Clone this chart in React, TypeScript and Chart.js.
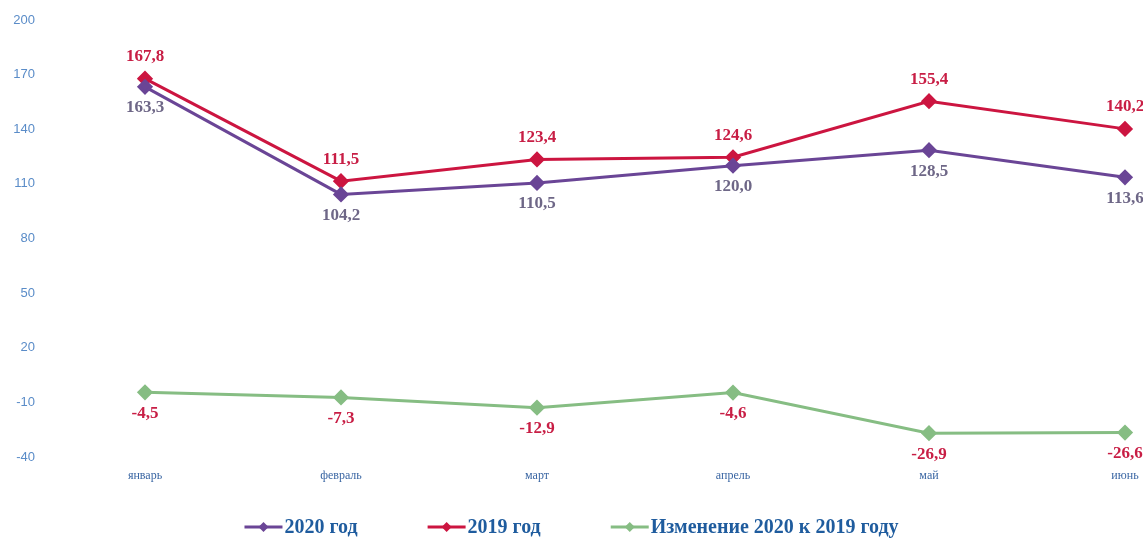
import React, { useEffect, useRef } from "react";
import { Chart, registerables } from "chart.js";

Chart.register(...registerables);

const months = ["январь", "февраль", "март", "апрель", "май", "июнь"];
const values2020 = [163.3, 104.2, 110.5, 120.0, 128.5, 113.6];
const values2019 = [167.8, 111.5, 123.4, 124.6, 155.4, 140.2];
const changeValues = [-4.5, -7.3, -12.9, -4.6, -26.9, -26.6];
const seriesNames = ["2020 год", "2019 год", "Изменение 2020 к 2019 году"];

const COLOR_2020 = "#6a4596";
const COLOR_2019 = "#cc1540";
const COLOR_CHANGE = "#86bd83";
const LABEL_2020 = "#6e6787";
const LABEL_RED = "#c81e45";
const LEGEND_TEXT = "#1f5c9e";

const fmt = (v: number) => v.toFixed(1).replace(".", ",");

const dataLabelsPlugin = {
  id: "valueLabels",
  afterDatasetsDraw(chart: any) {
    const ctx = chart.ctx;
    ctx.save();
    ctx.font = "bold 17px 'Liberation Serif', serif";
    ctx.textAlign = "center";
    ctx.textBaseline = "middle";
    chart.data.datasets.forEach((ds: any, i: number) => {
      const meta = chart.getDatasetMeta(i);
      meta.data.forEach((pt: any, j: number) => {
        const v = ds.data[j];
        let dy = 21;
        let color = LABEL_RED;
        if (i === 1) dy = -22;
        if (i === 0) color = LABEL_2020;
        ctx.fillStyle = color;
        ctx.fillText(fmt(v), pt.x, pt.y + dy);
      });
    });
    ctx.restore();
  },
};

const customLegendPlugin = {
  id: "customLegend",
  afterDraw(chart: any) {
    const ctx = chart.ctx;
    const iconW = 38;
    const textGap = 2;
    const itemGap = 70;
    const y = chart.height - 16;
    ctx.save();
    ctx.font = "bold 20px 'Liberation Serif', serif";
    ctx.textBaseline = "middle";
    ctx.textAlign = "left";
    const items = chart.data.datasets.map((ds: any) => ({
      text: ds.label,
      color: ds.borderColor,
      w: iconW + textGap + ctx.measureText(ds.label).width,
    }));
    const total = items.reduce((s: number, it: any) => s + it.w, 0) + itemGap * (items.length - 1);
    let x = (chart.width - total) / 2;
    items.forEach((it: any) => {
      ctx.strokeStyle = it.color;
      ctx.lineWidth = 3;
      ctx.beginPath();
      ctx.moveTo(x, y);
      ctx.lineTo(x + iconW, y);
      ctx.stroke();
      ctx.fillStyle = it.color;
      const cx = x + iconW / 2;
      ctx.beginPath();
      ctx.moveTo(cx, y - 5);
      ctx.lineTo(cx + 5, y);
      ctx.lineTo(cx, y + 5);
      ctx.lineTo(cx - 5, y);
      ctx.closePath();
      ctx.fill();
      ctx.fillStyle = LEGEND_TEXT;
      ctx.fillText(it.text, x + iconW + textGap, y + 1);
      x += it.w + itemGap;
    });
    ctx.restore();
  },
};

export default function App() {
  const ref = useRef<HTMLCanvasElement>(null);
  useEffect(() => {
    if (!ref.current) return;
    const mk = (label: string, data: number[], color: string) => ({
      label,
      data,
      borderColor: color,
      backgroundColor: color,
      borderWidth: 3,
      pointStyle: "rectRot",
      pointRadius: 6,
      pointHoverRadius: 6,
    });
    const chart = new Chart(ref.current, {
      type: "line",
      data: {
        labels: months,
        datasets: [
          mk(seriesNames[0], values2020, COLOR_2020),
          mk(seriesNames[1], values2019, COLOR_2019),
          mk(seriesNames[2], changeValues, COLOR_CHANGE),
        ],
      },
      options: {
        animation: false,
        responsive: false,
        maintainAspectRatio: false,
        layout: { padding: { top: 20, right: 18, left: 0, bottom: 56 } },
        plugins: {
          tooltip: { enabled: false },
          legend: { display: false },
        },
        scales: {
          x: {
            offset: false,
            grid: { display: false, drawTicks: false },
            border: { display: false },
            ticks: {
              color: "#3a66a3",
              padding: 12,
              maxRotation: 0,
              autoSkip: false,
              font: { family: "'Liberation Serif', serif", size: 12 },
            },
            afterFit: (scale: any) => {
              scale.height = 30;
              scale.paddingLeft = 0;
              scale.paddingRight = 0;
            },
          },
          y: {
            min: -40,
            max: 200,
            grid: { display: false, drawTicks: false },
            border: { display: false },
            ticks: {
              stepSize: 30,
              padding: 110,
              color: "#5a8cc8",
              font: { family: "'Liberation Sans', sans-serif", size: 13 },
            },
            afterFit: (scale: any) => {
              scale.width = 145;
              scale.paddingTop = 0;
              scale.paddingBottom = 0;
            },
          },
        },
      },
      plugins: [dataLabelsPlugin, customLegendPlugin],
    });
    return () => chart.destroy();
  }, []);
  return (
    <div style={{ position: "fixed", left: 0, top: 0, width: 1143, height: 543, background: "#fff" }}>
      <canvas ref={ref} width={1143} height={543} style={{ width: 1143, height: 543 }} />
    </div>
  );
}
